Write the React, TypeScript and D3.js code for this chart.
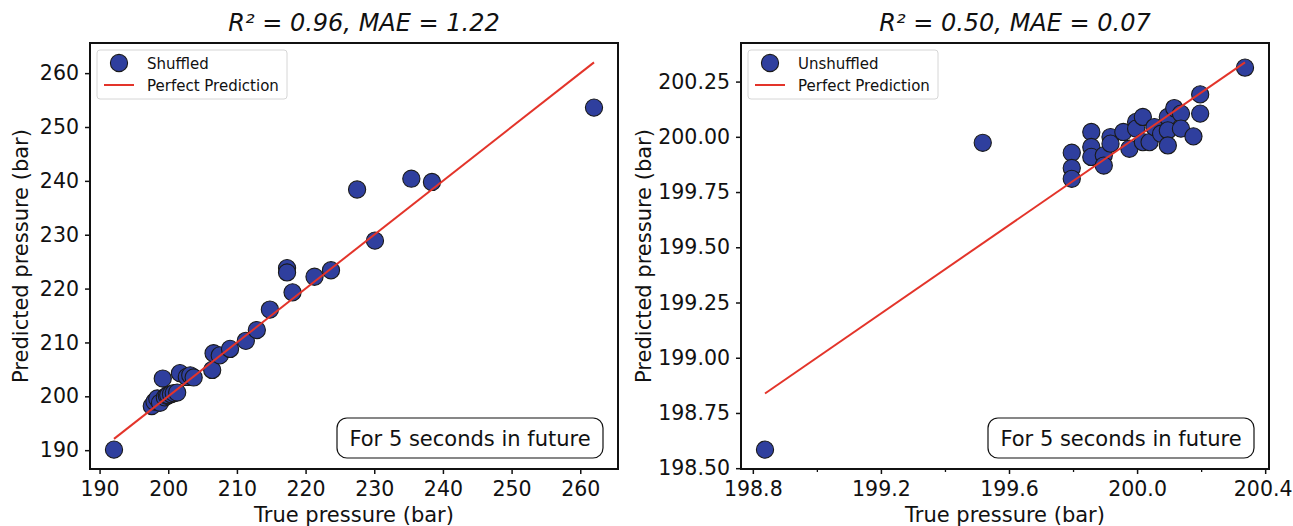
import React, { useEffect, useRef } from "react";
import * as d3 from "d3";

const width = 1293;
const height = 526;
const font = "DejaVu Sans, Liberation Sans, sans-serif";

// shuffled split: true vs predicted pressure (bar)
const shuffledTrue = [
  192.1, 197.6, 198.0, 198.4, 198.8, 199.2, 199.5, 199.8, 200.0, 200.4, 200.8,
  201.3, 201.7, 202.7, 203.2, 203.7, 206.4, 206.6, 207.5, 209.0, 211.3, 212.9,
  214.8, 217.3, 217.3, 218.1, 221.3, 223.7, 227.5, 230.1, 235.4, 238.4, 262.0,
];
const shuffledPred = [
  190.1, 198.2, 199.0, 199.6, 198.8, 203.3, 199.8, 200.1, 200.2, 200.4, 200.6,
  200.7, 204.3, 203.6, 203.9, 203.5, 204.9, 208.0, 207.6, 208.8, 210.3, 212.3,
  216.1, 223.8, 223.0, 219.3, 222.2, 223.4, 238.4, 228.9, 240.4, 239.8, 253.6,
];

// unshuffled split
const unshuffledTrue = [
  198.838, 199.518, 199.796, 199.796, 199.796, 199.857, 199.857, 199.857,
  199.896, 199.896, 199.917, 199.917, 199.957, 199.976, 199.997, 199.997,
  200.018, 200.018, 200.039, 200.054, 200.075, 200.096, 200.096, 200.096,
  200.116, 200.137, 200.137, 200.176, 200.197, 200.197, 200.337,
];
const unshuffledPred = [
  198.584, 199.973, 199.928, 199.859, 199.81, 200.022, 199.954, 199.909,
  199.916, 199.87, 199.999, 199.969, 200.022, 199.946, 200.067, 200.037,
  200.09, 199.976, 199.976, 200.044, 200.014, 200.09, 200.029, 199.961,
  200.13, 200.105, 200.037, 200.002, 200.192, 200.105, 200.313,
];

const shuffledTicks = [190, 200, 210, 220, 230, 240, 250, 260];
const unshuffledXTicks = [198.8, 199.2, 199.6, 200.0, 200.4];
const unshuffledXMinor = [199.0, 199.4, 199.8, 200.2];
const unshuffledYTicks = [198.5, 198.75, 199.0, 199.25, 199.5, 199.75, 200.0, 200.25];

const titles = ["R² = 0.96, MAE = 1.22", "R² = 0.50, MAE = 0.07"];
const seriesNames = ["Shuffled", "Unshuffled"];

const dotFill = "#2f3f9e";
const lineRed = "#e3342a";

const pad = (lo: number, hi: number) => {
  const m = (hi - lo) * 0.05;
  return [lo - m, hi + m];
};

function drawPanel(svg: any, p: any) {
  const { x0, x1, y0, y1 } = p;
  const tMin = d3.min(p.trueVals) as number;
  const tMax = d3.max(p.trueVals) as number;
  const yLo = Math.min(d3.min(p.predVals) as number, tMin);
  const yHi = Math.max(d3.max(p.predVals) as number, tMax);

  const x = d3.scaleLinear().domain(pad(tMin, tMax)).range([x0, x1]);
  const y = d3.scaleLinear().domain(pad(yLo, yHi)).range([y1, y0]);

  const g = svg.append("g");

  // title
  g.append("text")
    .attr("x", (x0 + x1) / 2 + 10)
    .attr("y", 31)
    .attr("text-anchor", "middle")
    .attr("font-size", 24)
    .attr("font-style", "italic")
    .attr("fill", "#111")
    .text(p.title);

  // axes
  const xAxis = g
    .append("g")
    .attr("transform", `translate(0,${y1})`)
    .call(
      d3.axisBottom(x).tickValues(p.xTicks).tickFormat(p.xFmt).tickSize(5).tickPadding(7)
    );
  if (p.xMinor) {
    g.append("g")
      .attr("transform", `translate(0,${y1})`)
      .call(d3.axisBottom(x).tickValues(p.xMinor).tickFormat(() => "").tickSize(3))
      .call((a: any) => a.select(".domain").remove())
      .selectAll("line")
      .attr("stroke-width", 1.3)
      .attr("stroke", "#111");
  }
  const yAxis = g
    .append("g")
    .attr("transform", `translate(${x0},0)`)
    .call(
      d3.axisLeft(y).tickValues(p.yTicks).tickFormat(p.yFmt).tickSize(5).tickPadding(6)
    );
  [xAxis, yAxis].forEach((a: any) => {
    a.select(".domain").remove();
    a.selectAll("line").attr("stroke-width", 1.5).attr("stroke", "#111");
    a.selectAll("text")
      .attr("font-size", 20.5)
      .attr("font-family", font)
      .attr("fill", "#111");
  });

  // keep the last x label inside the page edge
  const lastLabel = xAxis.selectAll(".tick text").filter((_: any, i: number, n: any[]) => i === n.length - 1);
  const lastX = x(p.xTicks[p.xTicks.length - 1]);
  if (lastX + 30 > width) {
    lastLabel.attr("text-anchor", "end").attr("x", width - 1 - lastX);
  }

  // axis labels
  g.append("text")
    .attr("x", (x0 + x1) / 2)
    .attr("y", 522)
    .attr("text-anchor", "middle")
    .attr("font-size", 21)
    .attr("fill", "#111")
    .text("True pressure (bar)");
  g.append("text")
    .attr("transform", `translate(${x0 - p.yLabelGap},${(y0 + y1) / 2}) rotate(-90)`)
    .attr("text-anchor", "middle")
    .attr("font-size", 21)
    .attr("fill", "#111")
    .text("Predicted pressure (bar)");

  // points
  g.append("g")
    .selectAll("circle")
    .data(p.trueVals.map((t: number, i: number) => [t, p.predVals[i]]))
    .join("circle")
    .attr("cx", (d: number[]) => x(d[0]))
    .attr("cy", (d: number[]) => y(d[1]))
    .attr("r", 8.6)
    .attr("fill", dotFill)
    .attr("stroke", "#1a1a1a")
    .attr("stroke-width", 1.1);

  // perfect prediction line
  g.append("line")
    .attr("x1", x(tMin))
    .attr("y1", y(tMin))
    .attr("x2", x(tMax))
    .attr("y2", y(tMax))
    .attr("stroke", lineRed)
    .attr("stroke-width", 2);

  // frame
  g.append("rect")
    .attr("x", x0)
    .attr("y", y0)
    .attr("width", x1 - x0)
    .attr("height", y1 - y0)
    .attr("fill", "none")
    .attr("stroke", "#111")
    .attr("stroke-width", 2);

  // legend
  const lg = g.append("g").attr("transform", `translate(${x0 + 7},${y0 + 7})`);
  lg.append("rect")
    .attr("width", 190)
    .attr("height", 49)
    .attr("rx", 3)
    .attr("fill", "white")
    .attr("fill-opacity", 0.85)
    .attr("stroke", "#d6d6d6");
  lg.append("circle")
    .attr("cx", 22)
    .attr("cy", 13)
    .attr("r", 8.6)
    .attr("fill", dotFill)
    .attr("stroke", "#1a1a1a")
    .attr("stroke-width", 1.1);
  lg.append("line")
    .attr("x1", 7)
    .attr("x2", 37)
    .attr("y1", 35)
    .attr("y2", 35)
    .attr("stroke", lineRed)
    .attr("stroke-width", 2);
  lg.append("text").attr("x", 50).attr("y", 18.5).attr("font-size", 15).attr("fill", "#111").text(p.name);
  lg.append("text").attr("x", 50).attr("y", 40.5).attr("font-size", 15).attr("fill", "#111").text("Perfect Prediction");

  // annotation box
  const bw = 266;
  const bh = 40;
  const ag = g.append("g").attr("transform", `translate(${x1 - 15 - bw},${y1 - 11 - bh})`);
  ag.append("rect")
    .attr("width", bw)
    .attr("height", bh)
    .attr("rx", 10)
    .attr("fill", "white")
    .attr("stroke", "#111")
    .attr("stroke-width", 1.2);
  ag.append("text")
    .attr("x", bw / 2)
    .attr("y", bh / 2 + 7.5)
    .attr("text-anchor", "middle")
    .attr("font-size", 21)
    .attr("fill", "#111")
    .text("For 5 seconds in future");
}

export default function App() {
  const ref = useRef<SVGSVGElement>(null);

  useEffect(() => {
    const svg = d3.select(ref.current);
    svg.selectAll("*").remove();
    drawPanel(svg, {
      x0: 90, x1: 618, y0: 43, y1: 469,
      trueVals: shuffledTrue,
      predVals: shuffledPred,
      xTicks: shuffledTicks,
      yTicks: shuffledTicks,
      xFmt: d3.format("d"),
      yFmt: d3.format("d"),
      title: titles[0],
      name: seriesNames[0],
      yLabelGap: 62,
    });
    drawPanel(svg, {
      x0: 741, x1: 1269, y0: 43, y1: 469,
      trueVals: unshuffledTrue,
      predVals: unshuffledPred,
      xTicks: unshuffledXTicks,
      xMinor: unshuffledXMinor,
      yTicks: unshuffledYTicks,
      xFmt: d3.format(".1f"),
      yFmt: d3.format(".2f"),
      title: titles[1],
      name: seriesNames[1],
      yLabelGap: 90,
    });
  }, []);

  return (
    <svg
      ref={ref}
      width={width}
      height={height}
      style={{ position: "absolute", left: 0, top: 0, background: "white" }}
      fontFamily={font}
    />
  );
}
